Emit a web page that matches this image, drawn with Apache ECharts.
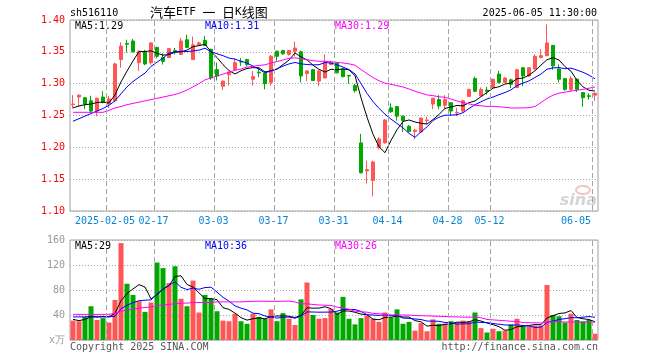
<!DOCTYPE html>
<html><head><meta charset="utf-8">
<script src="https://cdn.jsdelivr.net/npm/echarts@6/dist/echarts.min.js"></script>
<style>html,body{margin:0;padding:0;background:#fff}#c{width:660px;height:360px}</style>
</head><body><div id="c"></div>
<script>
const dates = ['2025-01-20','2025-01-21','2025-01-22','2025-01-23','2025-01-24','2025-01-27',
'2025-02-05','2025-02-06','2025-02-07','2025-02-10','2025-02-11','2025-02-12','2025-02-13','2025-02-14','2025-02-17','2025-02-18','2025-02-19','2025-02-20','2025-02-21','2025-02-24','2025-02-25','2025-02-26','2025-02-27','2025-02-28',
'2025-03-03','2025-03-04','2025-03-05','2025-03-06','2025-03-07','2025-03-10','2025-03-11','2025-03-12','2025-03-13','2025-03-14','2025-03-17','2025-03-18','2025-03-19','2025-03-20','2025-03-21','2025-03-24','2025-03-25','2025-03-26','2025-03-27','2025-03-28','2025-03-31',
'2025-04-01','2025-04-02','2025-04-03','2025-04-07','2025-04-08','2025-04-09','2025-04-10','2025-04-11','2025-04-14','2025-04-15','2025-04-16','2025-04-17','2025-04-18','2025-04-21','2025-04-22','2025-04-23','2025-04-24','2025-04-25','2025-04-28','2025-04-29','2025-04-30',
'2025-05-06','2025-05-07','2025-05-08','2025-05-09','2025-05-12','2025-05-13','2025-05-14','2025-05-15','2025-05-16','2025-05-19','2025-05-20','2025-05-21','2025-05-22','2025-05-23','2025-05-26','2025-05-27','2025-05-28','2025-05-29','2025-05-30',
'2025-06-03','2025-06-04','2025-06-05'];

const opens = [
1.267,1.279,1.278,1.273,1.257,1.279,1.268,1.273,1.338,1.363,
1.367,1.333,1.350,1.333,1.357,1.341,1.341,1.352,1.346,1.369,
1.338,1.361,1.368,1.354,1.322,1.296,1.314,1.322,1.335,1.338,
1.307,1.318,1.316,1.302,1.351,1.352,1.346,1.351,1.350,1.316,
1.322,1.304,1.309,1.330,1.333,1.323,1.313,1.297,1.207,1.163,
1.148,1.200,1.207,1.262,1.264,1.249,1.233,1.225,1.224,1.242,
1.268,1.275,1.266,1.270,1.254,1.257,1.280,1.308,1.281,1.290,
1.294,1.315,1.302,1.306,1.294,1.325,1.312,1.323,1.341,1.344,
1.360,1.323,1.308,1.291,1.307,1.286,1.281,1.282];
const closes = [
1.268,1.282,1.268,1.257,1.277,1.271,1.276,1.331,1.359,1.362,
1.350,1.351,1.331,1.364,1.343,1.335,1.355,1.350,1.367,1.357,
1.361,1.364,1.360,1.309,1.312,1.304,1.318,1.333,1.334,1.330,
1.311,1.317,1.300,1.343,1.343,1.347,1.352,1.356,1.312,1.320,
1.305,1.320,1.334,1.334,1.317,1.311,1.312,1.289,1.160,1.165,
1.177,1.213,1.243,1.256,1.249,1.242,1.225,1.227,1.246,1.243,
1.277,1.265,1.275,1.257,1.255,1.273,1.291,1.288,1.291,1.288,
1.307,1.302,1.309,1.299,1.322,1.312,1.325,1.343,1.344,1.364,
1.328,1.307,1.291,1.308,1.291,1.278,1.280,1.285];
const lows = [
1.261,1.264,1.260,1.255,1.249,1.269,1.262,1.272,1.325,1.349,
1.349,1.320,1.329,1.330,1.340,1.330,1.340,1.346,1.345,1.356,
1.337,1.360,1.359,1.306,1.305,1.290,1.297,1.321,1.328,1.327,
1.297,1.310,1.291,1.297,1.336,1.345,1.344,1.343,1.302,1.304,
1.304,1.296,1.308,1.329,1.316,1.310,1.300,1.286,1.159,1.143,
1.123,1.197,1.206,1.254,1.242,1.224,1.223,1.213,1.223,1.236,
1.260,1.260,1.260,1.250,1.249,1.255,1.279,1.287,1.280,1.283,
1.293,1.300,1.301,1.293,1.293,1.296,1.311,1.322,1.340,1.343,
1.322,1.302,1.289,1.287,1.287,1.264,1.275,1.273];
const highs = [
1.282,1.283,1.279,1.281,1.278,1.288,1.281,1.333,1.365,1.369,
1.370,1.352,1.353,1.365,1.358,1.348,1.356,1.356,1.372,1.377,
1.374,1.366,1.375,1.355,1.333,1.305,1.319,1.340,1.340,1.339,
1.320,1.325,1.317,1.345,1.352,1.353,1.353,1.366,1.352,1.321,
1.323,1.322,1.346,1.336,1.334,1.324,1.314,1.300,1.221,1.179,
1.179,1.216,1.244,1.269,1.265,1.250,1.235,1.229,1.247,1.248,
1.278,1.282,1.282,1.271,1.262,1.275,1.292,1.311,1.294,1.295,
1.308,1.320,1.310,1.308,1.323,1.326,1.326,1.346,1.354,1.393,
1.361,1.330,1.309,1.312,1.308,1.287,1.285,1.286];
const volumes = [
31,30,37,54,32,35,28,64,155,90,
72,62,45,60,124,115,91,118,66,54,
95,44,72,66,46,31,30,42,30,26,
42,37,34,49,30,43,34,24,65,92,
40,34,35,50,44,69,34,25,35,39,
34,29,44,36,49,26,29,15,27,14,
33,26,26,30,28,31,30,44,19,12,
18,14,15,25,34,21,21,23,23,88,
40,38,28,42,32,30,32,10];

const ma5Head = [1.262,1.265,1.267,1.268];
const ma10Head = [1.241,1.245,1.249,1.253,1.257,1.261,1.266,1.273,1.284];
const ma30Head = [1.255,1.255,1.255,1.255,1.255,1.255,1.258,1.262,1.264,1.267,1.269,1.271,1.273,1.275,1.277,1.279,1.281,1.283,1.286,1.290,1.295,1.300,1.306,1.309,1.312,1.315,1.318,1.321,1.323];
const vma5Head = [33,31,33,37];
const vma10Head = [37,37,37,38,37,37,37,38,50];
const vma30Head = [41,41,41,41,41,41,41,43,46,48,49,51,52,53,55,56,57,58,59,59,60,60,60,60,61,61,61,61,61];

const gridDates = ['2025-02-05','2025-02-17','2025-03-03','2025-03-17','2025-03-31','2025-04-14','2025-04-28','2025-05-12','2025-06-05'];
const tickLabels = ['2025-02-05','02-17','03-03','03-17','03-31','04-14','04-28','05-12','06-05'];
const priceMaLabels = ['MA5:1.29','MA10:1.31','MA30:1.29'];
const volMaLabels = ['MA5:29','MA10:36','MA30:26'];
const headerLeft = 'sh516110';
const headerTime = '2025-06-05 11:30:00';
const footerLeft = 'Copyright 2025 SINA.COM';
const footerRight = 'http://finance.sina.com.cn';

function movingAvg(vals, n, head) {
  return vals.map((v, i) => {
    if (i < n - 1) return head[i];
    let s = 0; for (let k = i - n + 1; k <= i; k++) s += vals[k];
    return s / n;
  });
}

const RED = '#ff5555', GREEN = '#00a800';
const MONO = 'DejaVu Sans Mono';
const gridIdxList = gridDates.map(d => dates.indexOf(d));
const gridIdx = new Set(gridIdxList);
const labelMap = {}; gridDates.forEach((d, k) => labelMap[d] = tickLabels[k]);
const lastDate = gridDates[gridDates.length - 1];
const firstDate = gridDates[0];

const kData = opens.map((o, i) => [o, closes[i], lows[i], highs[i]]);
const isUp = i => closes[i] >= opens[i];

const chart = echarts.init(document.getElementById('c'), null, {renderer: 'canvas'});

const GRIDS = [
  {left: 70, top: 20, width: 528, height: 191},
  {left: 70, top: 240, width: 528, height: 100}
];

function xAxisCfg(gi, showLabel) {
  return {
    type: 'category', gridIndex: gi, data: dates, boundaryGap: true,
    axisLine: {show: false}, axisTick: {show: false},
    axisLabel: {
      show: showLabel,
      interval: (i) => gridIdx.has(i),
      color: '#0a84d6', fontFamily: MONO, fontSize: 10, margin: 5,
      formatter: (v) => {
        const t = labelMap[v] || '';
        if (v === lastDate) return '{e|' + t + '}';
        if (v === firstDate) return '{f|' + t + '}';
        return '{m|' + t + '}';
      },
      rich: {
        e: {color: '#0a84d6', fontFamily: MONO, fontSize: 10, padding: [0, 38, 0, 0]},
        f: {color: '#0a84d6', fontFamily: MONO, fontSize: 10, padding: [0, 8, 0, 0]},
        m: {color: '#0a84d6', fontFamily: MONO, fontSize: 10, padding: [0, 7, 0, 0]}
      }
    },
    splitLine: {show: false}
  };
}

const textGraphics = [
  {type: 'text', x: 70, y: 13, style: {text: headerLeft, fill: '#000', font: '10px "DejaVu Sans Mono"', verticalAlign: 'middle'}},
  {type: 'text', x: 150, y: 12, style: {
    text: '{c|汽车}{l|ETF }{c|一}{l| }{c|日}{l|K}{c|线图}', verticalAlign: 'middle',
    rich: {
      c: {fontFamily: 'Noto Sans CJK SC', fontSize: 13, fill: '#000'},
      l: {fontFamily: MONO, fontSize: 11, fill: '#000'}
    }}},
  {type: 'text', x: 597, y: 13, style: {text: headerTime, fill: '#000', font: '10px "DejaVu Sans Mono"', align: 'right', verticalAlign: 'middle'}},
  {type: 'text', x: 75, y: 26, z: 30, style: {text: priceMaLabels[0], fill: '#000', font: '10px "DejaVu Sans Mono"', verticalAlign: 'middle'}},
  {type: 'text', x: 205, y: 26, z: 30, style: {text: priceMaLabels[1], fill: '#0000ff', font: '10px "DejaVu Sans Mono"', verticalAlign: 'middle'}},
  {type: 'text', x: 335, y: 26, z: 30, style: {text: priceMaLabels[2], fill: '#ff00ff', font: '10px "DejaVu Sans Mono"', verticalAlign: 'middle'}},
  {type: 'text', x: 75, y: 246, z: 30, style: {text: volMaLabels[0], fill: '#000', font: '10px "DejaVu Sans Mono"', verticalAlign: 'middle'}},
  {type: 'text', x: 205, y: 246, z: 30, style: {text: volMaLabels[1], fill: '#0000ff', font: '10px "DejaVu Sans Mono"', verticalAlign: 'middle'}},
  {type: 'text', x: 335, y: 246, z: 30, style: {text: volMaLabels[2], fill: '#ff00ff', font: '10px "DejaVu Sans Mono"', verticalAlign: 'middle'}},
  {type: 'text', x: 70, y: 347, style: {text: footerLeft, fill: '#555', font: '10px "DejaVu Sans Mono"', verticalAlign: 'middle'}},
  {type: 'text', x: 598, y: 347, style: {text: footerRight, fill: '#555', font: '10px "DejaVu Sans Mono"', align: 'right', verticalAlign: 'middle'}},
  {type: 'ellipse', shape: {cx: 583, cy: 190, rx: 7, ry: 4}, style: {fill: 'none', stroke: '#f3c4c4', lineWidth: 2}},
  {type: 'text', x: 597, y: 201, style: {text: 'sina', fill: '#d4d4d4', font: 'italic bold 16px "DejaVu Sans"', align: 'right', verticalAlign: 'middle'}}
];

const option = {
  animation: false,
  backgroundColor: '#fff',
  textStyle: {fontFamily: MONO},
  grid: GRIDS.map(g => Object.assign({show: true, borderColor: '#a0a0a0', borderWidth: 1, backgroundColor: 'rgba(0,0,0,0)', containLabel: false, outerBoundsMode: 'none'}, g)),
  xAxis: [xAxisCfg(0, true), xAxisCfg(1, false)],
  yAxis: [
    {type: 'value', gridIndex: 0, min: 1.10, max: 1.40, interval: 0.05, scale: true,
     axisLine: {show: false}, axisTick: {show: false},
     axisLabel: {color: '#ff0000', fontFamily: MONO, fontSize: 10, margin: 5, formatter: v => v.toFixed(2)},
     splitLine: {show: true, lineStyle: {color: '#a8a8a8', width: 1, type: [1, 2]}}},
    {type: 'value', gridIndex: 1, min: 0, max: 160, interval: 40,
     axisLine: {show: false}, axisTick: {show: false},
     axisLabel: {color: '#999', fontFamily: MONO, fontSize: 10, margin: 5, formatter: v => v === 0 ? 'x万' : String(v)},
     splitLine: {show: true, lineStyle: {color: '#a8a8a8', width: 1, type: [1, 2]}}}
  ],
  series: [
    {type: 'candlestick', xAxisIndex: 0, yAxisIndex: 0, data: kData, barWidth: 4,
     itemStyle: {color: RED, color0: GREEN, borderColor: RED, borderColor0: GREEN, borderWidth: 1}, z: 2},
    {type: 'line', xAxisIndex: 0, yAxisIndex: 0, data: movingAvg(closes, 5, ma5Head), symbol: 'none', lineStyle: {color: '#000', width: 1}, z: 3},
    {type: 'line', xAxisIndex: 0, yAxisIndex: 0, data: movingAvg(closes, 10, ma10Head), symbol: 'none', lineStyle: {color: '#0000ff', width: 1}, z: 3},
    {type: 'line', xAxisIndex: 0, yAxisIndex: 0, data: movingAvg(closes, 30, ma30Head), symbol: 'none', lineStyle: {color: '#ff00ff', width: 1}, z: 3},
    {type: 'bar', xAxisIndex: 1, yAxisIndex: 1, data: volumes, barWidth: 5,
     itemStyle: {color: p => isUp(p.dataIndex) ? RED : GREEN}, z: 2},
    {type: 'line', xAxisIndex: 1, yAxisIndex: 1, data: movingAvg(volumes, 5, vma5Head), symbol: 'none', lineStyle: {color: '#000', width: 1}, z: 3},
    {type: 'line', xAxisIndex: 1, yAxisIndex: 1, data: movingAvg(volumes, 10, vma10Head), symbol: 'none', lineStyle: {color: '#0000ff', width: 1}, z: 3},
    {type: 'line', xAxisIndex: 1, yAxisIndex: 1, data: movingAvg(volumes, 30, vma30Head), symbol: 'none', lineStyle: {color: '#ff00ff', width: 1}, z: 3}
  ],
  graphic: textGraphics
};
chart.setOption(option);

// dashed date gridlines on the left edge of each labelled date's band, positioned through the category axis;
// drawn as short solid dashes (5 on, 3 off)
const lineGraphics = [];
gridIdxList.forEach(i => {
  [0, 1].forEach(gi => {
    const c0 = chart.convertToPixel({xAxisIndex: gi}, i);
    const c1 = chart.convertToPixel({xAxisIndex: gi}, i + 1 < dates.length ? i + 1 : i - 1);
    const band = Math.abs(c1 - c0);
    const x = Math.round(c0 - band / 2) + 0.5;
    const g = GRIDS[gi];
    for (let y = g.top + 1; y < g.top + g.height; y += 8) {
      lineGraphics.push({type: 'line', z: 20,
        shape: {x1: x, y1: y, x2: x, y2: Math.min(y + 5, g.top + g.height)},
        style: {stroke: '#a4a4a4', lineWidth: 1}});
    }
  });
});
chart.setOption({graphic: textGraphics.concat(lineGraphics)});
</script></body></html>
